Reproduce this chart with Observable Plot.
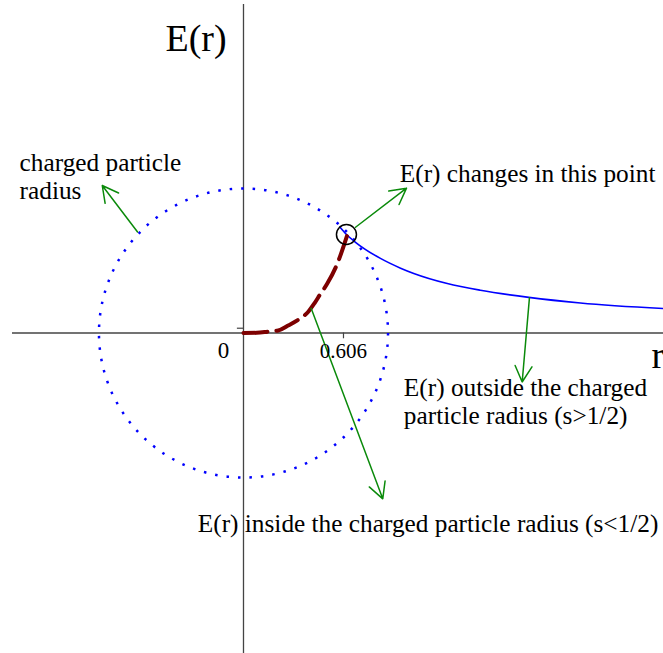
<!DOCTYPE html>
<html><head><meta charset="utf-8">
<script src="https://cdn.jsdelivr.net/npm/d3@7"></script>
<script src="https://cdn.jsdelivr.net/npm/@observablehq/plot@0.6"></script>
<style>body{margin:0;background:#fff}</style>
</head><body><div id="chart"></div>
<script>
// E(r) inside the charged particle radius (dashed, s<1/2)
const insideR = [0, 0.08, 0.153, 0.210, 0.27, 0.335, 0.390, 0.43, 0.467, 0.507, 0.568, 0.628];
const insideE = [0, 0.001, 0.009, 0.015, 0.045, 0.082, 0.126, 0.18, 0.238, 0.298, 0.419, 0.591];
// E(r) outside the charged particle radius (solid, s>1/2)
const outsideR = [0.584, 0.624, 0.679, 0.830, 0.952, 1.032, 1.235, 1.436, 1.729, 2.042, 2.545];
const outsideE = [0.642, 0.597, 0.550, 0.452, 0.393, 0.361, 0.300, 0.259, 0.216, 0.182, 0.148];
// charged particle radius circle and junction point
const particleRadius = 0.876;
const junction = {r: 0.624, e: 0.597};
// ticks
const xTickValue = 0.606;
const yTickValue = 0.029;
const tickLabels = ["0", "0.606"];
const tickLabelX = [-0.121, 0.606];
// annotation texts
const annTexts = [
  "charged particle\nradius",
  "E(r) changes in this point",
  "E(r) outside the charged\nparticle radius (s>1/2)",
  "E(r) inside the charged particle radius (s<1/2)"
];
const annX = [-1.357, 0.947, 0.972, -0.277];
const annY = [0.815, 0.914, -0.550, -1.205];
// arrows (from, to)
const arrowX1 = [-0.642, 0.679, 1.733, 0.410];
const arrowY1 = [0.612, 0.641, 0.213, 0.150];
const arrowX2 = [-0.856, 0.988, 1.689, 0.844];
const arrowY2 = [0.894, 0.878, -0.297, -1.005];

const inside = insideR.map((r, i) => ({r, e: insideE[i]}));
const outside = outsideR.map((r, i) => ({r, e: outsideE[i]}));
const anns = annTexts.map((t, i) => ({t, x: annX[i], y: annY[i]}));
const arrows = arrowX1.map((x1, i) => ({x1, y1: arrowY1[i], x2: arrowX2[i], y2: arrowY2[i]}));
const ticks = tickLabels.map((t, i) => ({t, x: tickLabelX[i]}));

const W = 663, H = 653;
const xDomain = [-1.4727, 2.5455];
const yDomain = [-1.9424, 2.0152];
const k = W / (xDomain[1] - xDomain[0]); // px per unit
const font = "Liberation Serif, Times New Roman, serif";

const plot = Plot.plot({
  width: W, height: H,
  margin: 0,
  x: {domain: xDomain, axis: null},
  y: {domain: yDomain, axis: null},
  r: {type: "linear", domain: [0, 1], range: [0, k]},
  style: {background: "#fff", fontFamily: font},
  marks: [
    // axes
    Plot.ruleY([0], {x1: -1.4, x2: xDomain[1], stroke: "#444", strokeWidth: 1.3}),
    Plot.ruleX([0], {y1: yDomain[0], y2: 1.991, stroke: "#444", strokeWidth: 1.3}),
    Plot.ruleX([xTickValue], {y1: 0, y2: -0.035, stroke: "#444", strokeWidth: 1.2}),
    Plot.ruleY([yTickValue], {x1: -0.037, x2: 0, stroke: "#444", strokeWidth: 1.2}),
    // particle radius circle
    Plot.dot([{x: 0, y: 0, r: particleRadius}], {x: "x", y: "y", r: "r", fill: "none", stroke: "#0000ff", strokeWidth: 2.5, strokeDasharray: "2.5,9"}),
    // curves
    Plot.line(outside, {x: "r", y: "e", stroke: "#0000ff", strokeWidth: 1.6, curve: "monotone-x"}),
    Plot.line(inside, {x: "r", y: "e", stroke: "#7d0000", strokeWidth: 4, strokeDasharray: "24,9", curve: "monotone-x"}),
    // junction marker
    Plot.dot([junction], {x: "r", y: "e", r: 10, stroke: "#000", strokeWidth: 1.5, fill: "none"}),
    // arrows
    Plot.arrow(arrows, {x1: "x1", y1: "y1", x2: "x2", y2: "y2", stroke: "#0a8a0a", strokeWidth: 1.5, headLength: 18, headAngle: 56}),
    // tick labels
    Plot.text(ticks, {x: "x", y: 0, text: "t", dy: 25, fontSize: (d) => d.t === "0" ? 23 : 21, textAnchor: "middle", lineAnchor: "bottom", fill: "#000"}),
    // axis titles
    Plot.text(["E(r)"], {x: -0.473, y: 1.712, text: d => d, fontSize: 38, textAnchor: "start", lineAnchor: "bottom", fill: "#000"}),
    Plot.text(["r"], {x: 2.473, y: -0.215, text: d => d, fontSize: 38, textAnchor: "start", lineAnchor: "bottom", fill: "#000"}),
    // annotations
    Plot.text(anns, {x: "x", y: "y", text: "t", fontSize: 25.3, lineHeight: 1.1, textAnchor: "start", lineAnchor: "bottom", fill: "#000"})
  ]
});
document.getElementById("chart").appendChild(plot);
</script>
</body></html>
